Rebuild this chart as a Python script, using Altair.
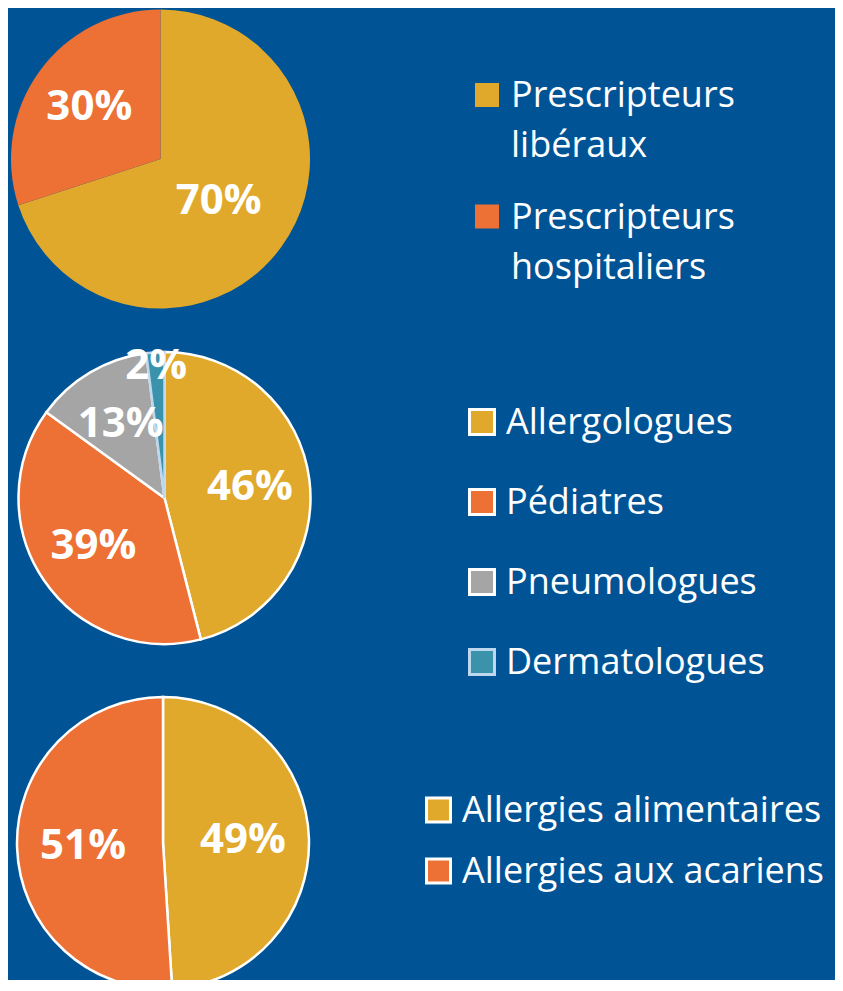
import altair as alt
import pandas as pd

BG = "#005496"
FONT = "Open Sans"
WHITE = "#FFFFFF"

# ---- data ----
cats1 = ["Prescripteurs libéraux", "Prescripteurs hospitaliers"]
vals1 = [70, 30]
leg1 = ["Prescripteurs\nlibéraux", "Prescripteurs\nhospitaliers"]
cols1 = ["#E0A92C", "#ED7034"]

cats2 = ["Allergologues", "Pédiatres", "Pneumologues", "Dermatologues"]
vals2 = [46, 39, 13, 2]
cols2 = ["#E0A92C", "#ED7034", "#A5A5A5", "#3A93AB"]
strokes2 = [WHITE, WHITE, WHITE, "#BDD7EE"]

cats3 = ["Allergies alimentaires", "Allergies aux acariens"]
vals3 = [49, 51]
cols3 = ["#E0A92C", "#ED7034"]
strokes3 = [WHITE, WHITE]


def pie(cats, vals, cols, w, h, outer, label_radius, strokes=None, sw=0, y_off=0, clip=False):
    df = pd.DataFrame({"cat": cats, "value": vals, "order": list(range(len(cats))),
                       "label": [f"{v}%" for v in vals]})
    base = alt.Chart(df).encode(
        theta=alt.Theta("value:Q", stack=True),
        order=alt.Order("order:Q"),
    )
    akw = dict(outerRadius=outer)
    tkw = dict(font=FONT, fontSize=42, fontWeight="bold", color=WHITE, align="center", baseline="middle")
    if y_off:
        akw["yOffset"] = y_off
        tkw["yOffset"] = y_off
    if clip:
        akw["clip"] = True
    enc = dict(color=alt.Color("cat:N", scale=alt.Scale(domain=cats, range=cols), legend=None))
    if strokes:
        enc["stroke"] = alt.Stroke("cat:N", scale=alt.Scale(domain=cats, range=strokes), legend=None)
        akw["strokeWidth"] = sw
    else:
        akw["strokeWidth"] = 0
    arcs = base.mark_arc(**akw).encode(**enc)
    text = base.mark_text(**tkw).encode(text="label:N", radius=label_radius)
    return alt.layer(arcs, text).properties(width=w, height=h)


def legend(cats, labels, cols, w, h, y_range, sq_x, txt_x, sq_size, strokes=None, sw=0):
    df = pd.DataFrame({"cat": cats, "label": labels})
    y = alt.Y("cat:N", scale=alt.Scale(domain=cats, range=y_range, padding=0), axis=None)
    skw = dict(size=sq_size, opacity=1, filled=True)
    enc = dict(x=alt.value(sq_x), y=y,
               color=alt.Color("cat:N", scale=alt.Scale(domain=cats, range=cols), legend=None))
    if strokes:
        enc["stroke"] = alt.Stroke("cat:N", scale=alt.Scale(domain=cats, range=strokes), legend=None)
        skw["strokeWidth"] = sw
        skw["strokeOpacity"] = 1
    sq = alt.Chart(df).mark_square(**skw).encode(**enc)
    txt = alt.Chart(df).mark_text(
        align="left", baseline="alphabetic", dy=12, font=FONT, fontSize=36,
        color=WHITE, lineBreak="\n", lineHeight=50,
    ).encode(x=alt.value(txt_x), y=y, text="label:N")
    return alt.layer(sq, txt).properties(width=w, height=h)


row1 = alt.hconcat(
    pie(cats1, vals1, cols1, 305, 302, 149.5,
        alt.Radius("value:Q", scale=alt.Scale(type="linear", domain=[30, 70], range=[88, 72],
                                              clamp=True, zero=False))),
    legend(cats1, leg1, cols1, 522, 302, [87, 208.5], 174, 198, 576),
    spacing=0,
).resolve_scale(color="independent", theta="independent", y="independent")

row2 = alt.hconcat(
    pie(cats2, vals2, cols2, 313, 376, 146,
        alt.Radius("value:Q", scale=alt.Scale(type="linear", domain=[2, 13], range=[132, 86],
                                              clamp=True, zero=False)),
        strokes=strokes2, sw=2.5),
    legend(cats2, cats2, cols2, 514, 376, [112, 352], 161, 185, 625, strokes=strokes2, sw=3),
    spacing=0,
).resolve_scale(color="independent", stroke="independent", theta="independent", y="independent")

row3 = alt.hconcat(
    pie(cats3, vals3, cols3, 310, 294, 146, alt.value(80), strokes=strokes3, sw=2.5, y_off=10, clip=True),
    legend(cats3, cats3, cols3, 517, 294, [124, 185], 120.5, 144, 576, strokes=strokes3, sw=3),
    spacing=0,
).resolve_scale(color="independent", stroke="independent", theta="independent", y="independent")

chart = alt.vconcat(row1, row2, row3, spacing=0).resolve_scale(
    color="independent", stroke="independent", theta="independent", y="independent", radius="independent"
).properties(background=BG, padding=0).configure_view(strokeWidth=0)

chart.save("out.html", embed_options={"renderer": "svg", "actions": False})
